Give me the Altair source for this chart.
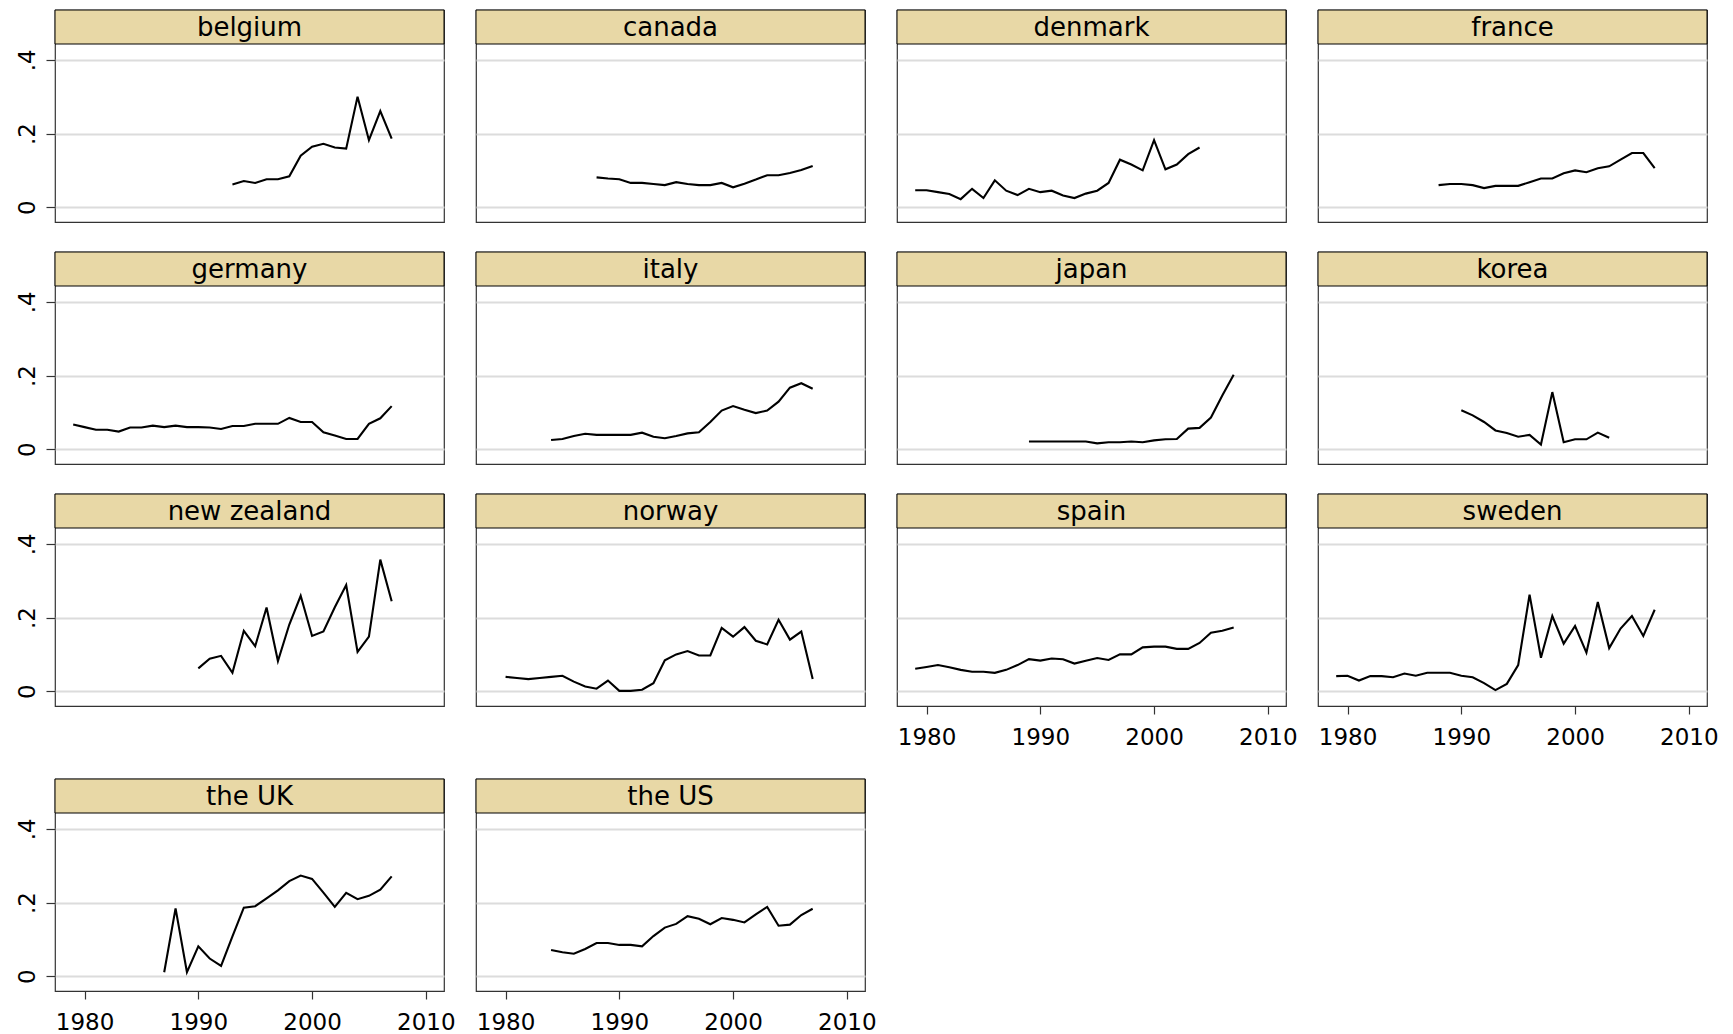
import altair as alt
import pandas as pd

# ---------------- data ----------------
countries = ["belgium", "canada", "denmark", "france",
             "germany", "italy", "japan", "korea",
             "new zealand", "norway", "spain", "sweden",
             "the UK", "the US"]

first_year = {
    "belgium": 1993, "canada": 1988, "denmark": 1979, "france": 1988,
    "germany": 1979, "italy": 1984, "japan": 1989, "korea": 1990,
    "new zealand": 1990, "norway": 1980, "spain": 1979, "sweden": 1979,
    "the UK": 1987, "the US": 1984,
}

belgium = [0.062, 0.071, 0.066, 0.076, 0.076, 0.084, 0.140, 0.164, 0.172,
           0.162, 0.159, 0.300, 0.182, 0.261, 0.186]
canada = [0.081, 0.078, 0.076, 0.066, 0.066, 0.063, 0.060, 0.068, 0.063,
          0.060, 0.060, 0.066, 0.054, 0.064, 0.075, 0.087, 0.087, 0.093,
          0.101, 0.112]
denmark = [0.046, 0.046, 0.041, 0.036, 0.022, 0.050, 0.025, 0.073, 0.045,
           0.033, 0.050, 0.041, 0.045, 0.032, 0.025, 0.037, 0.045, 0.066,
           0.129, 0.116, 0.100, 0.182, 0.103, 0.116, 0.144, 0.162]
france = [0.060, 0.063, 0.063, 0.060, 0.052, 0.058, 0.058, 0.058, 0.068,
          0.078, 0.078, 0.092, 0.100, 0.095, 0.106, 0.111, 0.129, 0.147,
          0.147, 0.106]
germany = [0.067, 0.060, 0.053, 0.053, 0.048, 0.059, 0.059, 0.064, 0.060,
           0.064, 0.060, 0.060, 0.059, 0.055, 0.063, 0.063, 0.069, 0.069,
           0.069, 0.085, 0.074, 0.074, 0.046, 0.037, 0.028, 0.028, 0.069,
           0.084, 0.117]
italy = [0.025, 0.028, 0.036, 0.042, 0.039, 0.039, 0.039, 0.039, 0.045,
         0.034, 0.030, 0.036, 0.043, 0.046, 0.074, 0.105, 0.117, 0.107,
         0.098, 0.105, 0.129, 0.167, 0.179, 0.164]
japan = [0.021, 0.021, 0.021, 0.021, 0.021, 0.021, 0.016, 0.019, 0.019,
         0.021, 0.019, 0.024, 0.027, 0.028, 0.056, 0.058, 0.086, 0.146,
         0.202]
korea = [0.106, 0.092, 0.074, 0.051, 0.044, 0.034, 0.039, 0.013, 0.155,
         0.019, 0.027, 0.027, 0.045, 0.031]
new_zealand = [0.062, 0.088, 0.096, 0.050, 0.164, 0.122, 0.227, 0.082,
               0.181, 0.259, 0.150, 0.162, 0.228, 0.288, 0.107, 0.148,
               0.357, 0.244]
norway = [0.039, 0.036, 0.033, 0.036, 0.039, 0.042, 0.026, 0.013, 0.007,
          0.029, 0.001, 0.001, 0.004, 0.022, 0.084, 0.100, 0.109, 0.097,
          0.097, 0.172, 0.148, 0.174, 0.137, 0.127, 0.194, 0.140, 0.162,
          0.033]
spain = [0.061, 0.066, 0.071, 0.065, 0.058, 0.053, 0.053, 0.050, 0.058,
         0.071, 0.087, 0.083, 0.089, 0.087, 0.075, 0.083, 0.090, 0.085,
         0.100, 0.100, 0.119, 0.121, 0.121, 0.115, 0.115, 0.131, 0.159,
         0.164, 0.173]
sweden = [0.041, 0.042, 0.029, 0.041, 0.041, 0.038, 0.048, 0.042, 0.050,
          0.050, 0.050, 0.042, 0.038, 0.022, 0.003, 0.020, 0.071, 0.262,
          0.091, 0.204, 0.129, 0.177, 0.105, 0.242, 0.117, 0.170, 0.204,
          0.150, 0.221]
the_uk = [0.011, 0.184, 0.011, 0.081, 0.048, 0.028, 0.108, 0.186, 0.190,
          0.211, 0.233, 0.258, 0.273, 0.264, 0.227, 0.188, 0.226, 0.209,
          0.218, 0.235, 0.271]
the_us = [0.071, 0.065, 0.061, 0.074, 0.090, 0.090, 0.085, 0.085, 0.081,
          0.109, 0.132, 0.142, 0.163, 0.156, 0.141, 0.158, 0.153, 0.146,
          0.168, 0.188, 0.137, 0.140, 0.166, 0.183]

series = {
    "belgium": belgium, "canada": canada, "denmark": denmark, "france": france,
    "germany": germany, "italy": italy, "japan": japan, "korea": korea,
    "new zealand": new_zealand, "norway": norway, "spain": spain,
    "sweden": sweden, "the UK": the_uk, "the US": the_us,
}

x_ticks = [1980, 1990, 2000, 2010]
y_ticks = [0, 0.2, 0.4]
x_axis_panels = ["spain", "sweden", "the UK", "the US"]

records = []
for c in countries:
    for i, v in enumerate(series[c]):
        records.append({"country": c, "year": first_year[c] + i, "value": v})
df = pd.DataFrame(records)

# ---------------- layout / style ----------------
W, H, HEAD = 389, 212, 34
X_DOMAIN = [1977.4, 2011.6]
Y_DOMAIN = [-0.04, 0.535]      # top part is occupied by the strip header
FONT = "DejaVu Sans"
FRAME = "#333333"
STRIP = "#e8d8a6"
GRID = "#dcdcdc"


def panel(idx, name):
    first_col = idx % 4 == 0
    y_axis = alt.Axis(
        values=y_ticks, grid=True, gridColor=GRID, gridWidth=2,
        domain=False, title=None, ticks=first_col, labels=first_col,
        tickSize=9 if first_col else 0, tickColor=FRAME, tickWidth=1.2,
        labelAngle=270, labelAlign="center", labelBaseline="bottom",
        labelFontSize=23, labelFont=FONT, labelColor="black",
        labelPadding=7 if first_col else 0,
        labelExpr="datum.value == 0 ? '0' : replace(format(datum.value, '.1f'), '0.', '.')",
        minExtent=0,
    )
    if name in x_axis_panels:
        x_axis = alt.Axis(
            values=x_ticks, format="d", grid=False, domain=False, title=None,
            tickSize=8, tickColor=FRAME, tickWidth=1.2,
            labelFontSize=23, labelFont=FONT, labelColor="black",
            labelPadding=12, labelFlush=False, labelOverlap=False,
        )
    else:
        x_axis = None

    line = alt.Chart(df).transform_filter(
        alt.datum.country == name
    ).mark_line(color="black", strokeWidth=2.1).encode(
        x=alt.X("year:Q", scale=alt.Scale(domain=X_DOMAIN, nice=False, zero=False), axis=x_axis),
        y=alt.Y("value:Q", scale=alt.Scale(domain=Y_DOMAIN, nice=False, zero=False), axis=y_axis),
    )
    head_df = pd.DataFrame({"country": [name]})
    rect = alt.Chart(head_df).mark_rect(fill=STRIP, stroke="black", strokeWidth=1).encode(
        x=alt.value(0), x2=alt.value(W), y=alt.value(0), y2=alt.value(HEAD)
    )
    text = alt.Chart(head_df).mark_text(
        font=FONT, fontSize=26, color="black", baseline="middle", align="center"
    ).encode(x=alt.value(W / 2), y=alt.value(HEAD / 2 + 1), text="country:N")
    return alt.layer(line, rect, text).properties(width=W, height=H)


panels = [panel(i, c) for i, c in enumerate(countries)]

chart = alt.concat(
    *panels, columns=4, spacing={"row": 27, "column": 18}, align="each"
).properties(
    padding={"left": 7, "top": 0, "right": 0, "bottom": 0},
    background="white",
).configure_view(
    stroke=FRAME, strokeWidth=1.2
)

chart.save("out.html", embed_options={"renderer": "svg", "actions": False})
